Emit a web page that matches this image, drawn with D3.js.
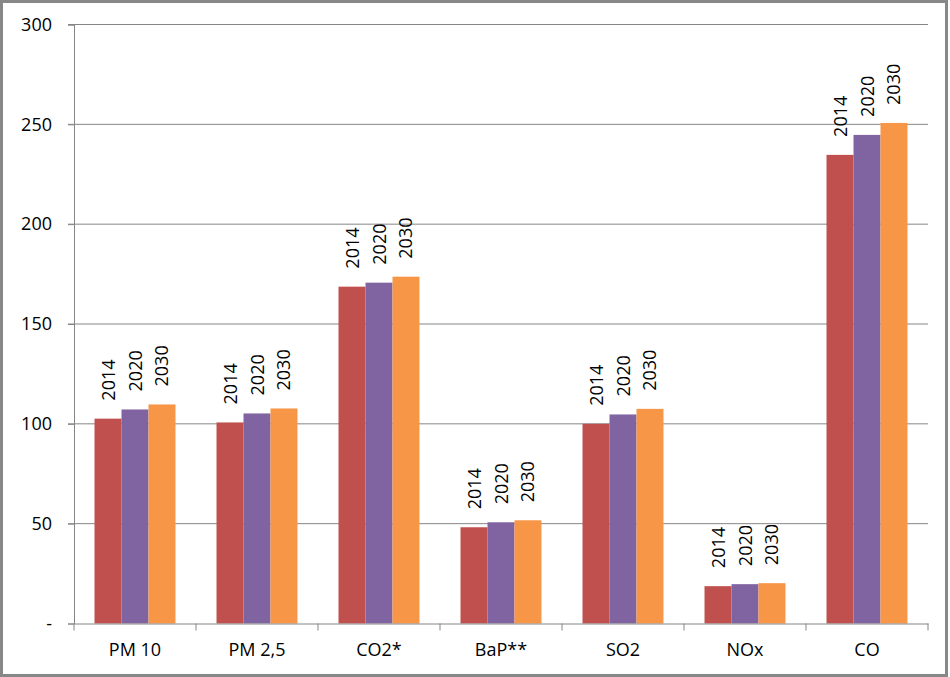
<!DOCTYPE html>
<html><head><meta charset="utf-8">
<script src="https://cdn.jsdelivr.net/npm/d3@7"></script>
<style>body{margin:0;background:#fff;} svg{display:block;}</style>
</head><body>
<svg id="c" width="950" height="677"></svg>
<script>
const categories = ["PM 10", "PM 2,5", "CO2*", "BaP**", "SO2", "NOx", "CO"];
const seriesNames = ["2014", "2020", "2030"];
const values2014 = [102.6, 100.7, 168.7, 48.2, 100.0, 18.7, 234.7];
const values2020 = [107.2, 105.2, 170.7, 50.7, 104.7, 19.7, 244.7];
const values2030 = [109.7, 107.7, 173.7, 51.7, 107.5, 20.2, 250.7];
const yTicks = [0, 50, 100, 150, 200, 250, 300];
const yTickLabels = ["-", "50", "100", "150", "200", "250", "300"];
const colors = ["#C0504D", "#8064A2", "#F79646"];

const series = [values2014, values2020, values2030];
const svg = d3.select("#c");
const W = 950, H = 677;
const m = {left: 74, right: 22, top: 24.5, bottom: 53.5};
const font = "'Open Sans', 'Liberation Sans', sans-serif";

svg.append("rect").attr("x", 1.5).attr("y", 1.5).attr("width", W - 5).attr("height", H - 3)
  .attr("fill", "#fff").attr("stroke", "#878787").attr("stroke-width", 3);

const x = d3.scaleBand().domain(categories).range([m.left, W - m.right]).paddingInner(0).paddingOuter(0);
// outer padding so that each bar is ~22% of the category width
const xs = d3.scaleBand().domain(seriesNames).range([0, x.bandwidth()]).paddingInner(0).paddingOuter(0.76);
const y = d3.scaleLinear().domain([0, 300]).range([H - m.bottom, m.top]);

// gridlines
svg.append("g").selectAll("line").data(yTicks.slice(1)).join("line")
  .attr("x1", m.left - 6).attr("x2", W - m.right)
  .attr("y1", d => y(d)).attr("y2", d => y(d))
  .attr("stroke", "#868686").attr("stroke-width", 1);

// y axis
const yAxis = d3.axisLeft(y).tickValues(yTicks).tickFormat((d, i) => yTickLabels[i]).tickSize(6).tickPadding(16);
const ga = svg.append("g").attr("transform", `translate(${m.left},0)`).call(yAxis);
ga.select(".domain").attr("stroke", "#868686");
ga.selectAll(".tick line").attr("stroke", "#868686");
ga.selectAll("text").attr("font-family", font).attr("font-size", 18).attr("fill", "#000");

// bars
const groups = svg.append("g").selectAll("g").data(categories).join("g")
  .attr("transform", d => `translate(${x(d)},0)`);
groups.each(function(cat, ci) {
  const g = d3.select(this);
  const d = seriesNames.map((s, si) => ({s, si, v: series[si][ci]}));
  g.selectAll("rect").data(d).join("rect")
    .attr("x", e => xs(e.s)).attr("width", xs.bandwidth())
    .attr("y", e => y(e.v)).attr("height", e => y(0) - y(e.v))
    .attr("fill", e => colors[e.si]);
  g.selectAll("text").data(d).join("text")
    .attr("transform", e => `translate(${xs(e.s) + xs.bandwidth() / 2 + 6.5},${y(e.v) - 18}) rotate(-90)`)
    .attr("font-family", font).attr("font-size", 18).attr("fill", "#000")
    .text(e => e.s);
});

// x axis
const xAxis = d3.axisBottom(x).tickSize(0).tickPadding(20);
const gx = svg.append("g").attr("transform", `translate(0,${y(0)})`).call(xAxis);
gx.select(".domain").attr("stroke", "#868686");
gx.selectAll("text").attr("font-family", font).attr("font-size", 18).attr("fill", "#000");
// category boundary ticks
svg.append("g").selectAll("line").data(categories.concat(["end"])).join("line")
  .attr("x1", (d, i) => i < categories.length ? x(d) : x(categories[categories.length - 1]) + x.bandwidth())
  .attr("x2", (d, i) => i < categories.length ? x(d) : x(categories[categories.length - 1]) + x.bandwidth())
  .attr("y1", y(0)).attr("y2", y(0) + 7)
  .attr("stroke", "#868686");
</script>
</body></html>
